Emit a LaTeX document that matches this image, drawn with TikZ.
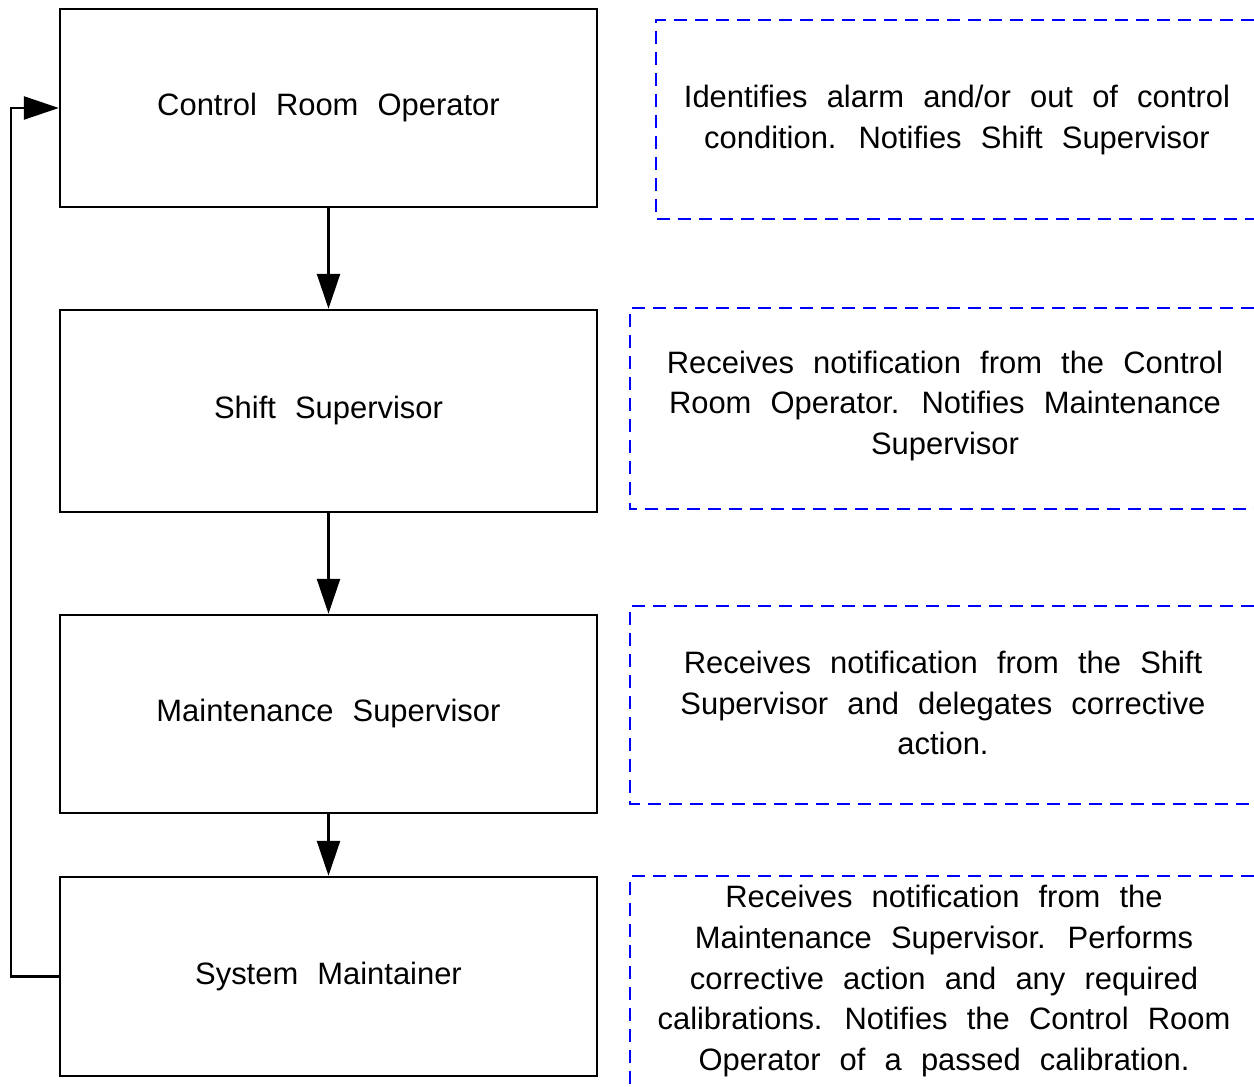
\documentclass[tikz,border=0pt]{standalone}
\usepackage{fontspec}
\setmainfont{Liberation Sans}
\usetikzlibrary{arrows.meta}
\newcommand\flowtext{\fontsize{17.6}{23.3}\selectfont\spaceskip=0.62em plus 0.1em minus 0.1em}

\begin{document}
\begin{tikzpicture}[x=0.02cm, y=-0.02cm,
        role/.style={draw, line width=1.4pt, minimum width=10.74cm, inner sep=0pt, font=\flowtext},
        note/.style={align=center, inner sep=0pt, font=\flowtext},
        notebox/.style={draw=blue, dash pattern=on 0.26cm off 0.16cm, line width=1.4pt},
        flow/.style={-{Triangle[length=0.7cm,width=0.46cm]}, line width=1.4pt}]
            \useasboundingbox (0,0) rectangle (1254,1087);
            % chain of roles
            \node[role, minimum height=3.96cm] (cro) at (328.5,108) {Control Room Operator};
            \node[role, minimum height=4.04cm] (ss) at (328.5,411) {Shift Supervisor};
            \node[role, minimum height=3.96cm] (ms) at (328.5,714) {Maintenance Supervisor};
            \node[role, minimum height=3.98cm] (sm) at (328.5,976.5) {System Maintainer};
            \draw[flow] (cro) -- (ss);
            \draw[flow] (ss) -- (ms);
            \draw[flow] (ms) -- (sm);
            \draw[flow] (sm.west) -- ++(-48,0) |- (cro.west);
            % dashed notes, open at the right edge
            \draw[notebox] (1254,20) -- (656,20) -- (656,219) -- (1254,219);
            \draw[notebox] (1254,308) -- (630,308) -- (630,509) -- (1254,509);
            \draw[notebox] (1254,606) -- (630,606) -- (630,804) -- (1254,804);
            \draw[notebox] (1254,876) -- (630,876) -- (630,1087);
            \node[note] (cronote) at (957,120) {Identifies alarm and/or out of control\\condition. Notifies Shift Supervisor};
            \node[note] (ssnote) at (945,406) {Receives notification from the Control\\Room Operator. Notifies Maintenance\\Supervisor};
            \node[note] (msnote) at (943,703) {Receives notification from the Shift\\Supervisor and delegates corrective\\action.};
            \node[note] (smnote) at (944,981) {Receives notification from the\\Maintenance Supervisor. Performs\\corrective action and any required\\calibrations. Notifies the Control Room\\Operator of a passed calibration.};
        \end{tikzpicture}
\end{document}
